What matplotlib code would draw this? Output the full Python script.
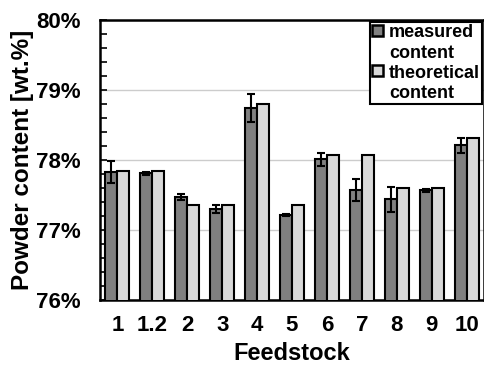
import numpy as np
import matplotlib.pyplot as plt
from matplotlib.ticker import MultipleLocator, FuncFormatter
from matplotlib.legend_handler import HandlerPatch
from matplotlib.patches import Rectangle

plt.rcParams['font.family'] = ['Liberation Sans', 'DejaVu Sans']
plt.rcParams['font.weight'] = 'bold'

# -------- DATA --------
feedstock = ["1", "1.2", "2", "3", "4", "5", "6", "7", "8", "9", "10"]
measured = [77.83, 77.81, 77.47, 77.30, 78.75, 77.21, 78.01, 77.57, 77.44, 77.57, 78.21]
measured_err = [0.16, 0.02, 0.04, 0.06, 0.20, 0.015, 0.09, 0.16, 0.18, 0.02, 0.11]
theoretical = [77.84, 77.84, 77.36, 77.36, 78.80, 77.36, 78.07, 78.07, 77.60, 77.60, 78.32]


# legend box sits next to the first line of a two-line label
class TopBox(HandlerPatch):
    def create_artists(self, legend, orig, xdescent, ydescent, width, height, fontsize, trans):
        side = 0.62 * fontsize
        fc = orig.patches[0].get_facecolor()
        p = Rectangle((-xdescent, -ydescent + 0.75 * fontsize), side, side,
                      facecolor=fc, edgecolor='black', linewidth=1.8)
        p.set_transform(trans)
        return [p]


# -------- PLOT --------
fig = plt.figure(figsize=(4.85, 3.65), dpi=100)
ax = fig.add_axes([100/485, 65/365, 384/485, 280/365])

x = np.arange(len(feedstock))
w = 0.345

b1 = ax.bar(x - w/2, measured, w, color='#808080', edgecolor='black',
            linewidth=1.5, label='measured\ncontent', zorder=3,
            yerr=measured_err, error_kw=dict(ecolor='black', elinewidth=1.5, capsize=3, capthick=1.5))
b2 = ax.bar(x + w/2, theoretical, w, color='#d9d9d9', edgecolor='black',
            linewidth=1.5, label='theoretical\ncontent', zorder=3)

ax.set_ylim(76, 80)
ax.set_xlim(-0.5, len(feedstock) - 0.5)
ax.set_xticks(x)
ax.set_xticklabels(feedstock)
ax.yaxis.set_major_locator(MultipleLocator(1))
ax.yaxis.set_minor_locator(MultipleLocator(0.2))
ax.yaxis.set_major_formatter(FuncFormatter(lambda v, p: f"{v:.0f}%"))
ax.tick_params(axis='y', which='both', direction='in', length=5, width=1.2, labelsize=16, pad=14)
ax.tick_params(axis='x', length=0, labelsize=16, pad=11)
ax.grid(axis='y', color='#cccccc', linewidth=1, zorder=0)

for s in ax.spines.values():
    s.set_linewidth(1.8)

ax.set_ylabel("Powder content [wt.%]", fontsize=17.5, fontweight='bold', labelpad=1)
ax.set_xlabel("Feedstock", fontsize=17, fontweight='bold', labelpad=4)

leg = ax.legend(loc='upper right', fontsize=13, frameon=True, fancybox=False,
                edgecolor='black', framealpha=1, borderpad=0.1, handlelength=0.75,
                handletextpad=0.2, labelspacing=0.15, borderaxespad=0.12,
                handler_map={b1: TopBox(), b2: TopBox()})
leg.get_frame().set_linewidth(1.5)
for t in leg.get_texts():
    t.set_linespacing(1.3)

plt.savefig("out.png", dpi=100)
